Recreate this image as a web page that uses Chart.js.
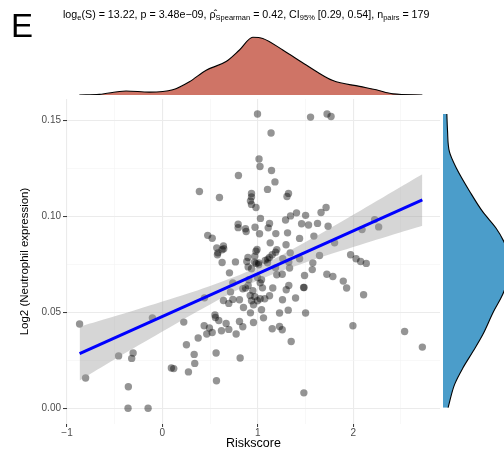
<!DOCTYPE html>
<html>
<head>
<meta charset="utf-8">
<script src="https://cdn.jsdelivr.net/npm/chart.js@4.4.1/dist/chart.umd.min.js"></script>
<style>
  html,body{margin:0;padding:0;background:#fff;}
  #wrap{position:relative;width:504px;height:457px;overflow:hidden;font-family:"Liberation Sans",Arial,sans-serif;}
  canvas{position:absolute;}
  #panel{position:absolute;left:11px;top:8px;font-size:33px;line-height:36px;color:#000;}
  #title{position:absolute;left:63px;top:7px;font-size:10.7px;line-height:14px;white-space:nowrap;color:#000;}
  #title sub{font-size:7.5px;vertical-align:-2px;line-height:0;}
</style>
</head>
<body>
<div id="wrap">
  <canvas id="main" width="504" height="457" style="left:0;top:0"></canvas>
  <canvas id="top" width="504" height="65" style="left:0;top:30px"></canvas>
  <canvas id="right" width="61" height="457" style="left:443px;top:0"></canvas>
  <div id="panel">E</div>
  <div id="title">log<sub>e</sub>(S) = 13.22, p = 3.48e−09, ρ̂<sub>Spearman</sub> = 0.42, CI<sub>95%</sub> [0.29, 0.54], n<sub>pairs</sub> = 179</div>
</div>
<script>
// ---- data ----
const riskscore = [0.997,1.553,1.726,1.768,1.139,1.013,1.023,1.144,0.797,1.180,1.102,0.388,0.598,0.934,0.934,1.322,1.306,0.923,0.934,0.981,
1.028,1.716,1.663,1.406,1.343,1.501,1.291,1.459,1.532,1.626,1.737,0.794,0.794,0.871,0.878,0.971,1.109,1.123,1.018,1.189,
1.312,1.438,1.588,1.805,1.296,1.186,1.151,0.992,0.981,0.897,1.647,1.973,2.030,2.078,2.137,2.225,2.267,2.093,0.475,0.522,
0.640,0.570,0.626,0.582,0.643,0.626,0.965,1.010,1.078,1.105,1.130,1.340,1.199,1.577,0.577,0.703,0.738,0.441,0.640,0.696,
0.738,0.551,0.556,0.591,0.438,0.493,0.522,0.465,0.375,0.619,0.668,0.696,0.773,0.808,0.843,0.955,0.563,0.815,0.333,0.339,
0.273,0.567,1.483,0.850,0.871,0.899,0.948,0.920,0.969,0.997,0.955,0.934,1.025,1.073,1.039,1.157,1.025,0.997,0.906,1.228,
1.319,1.501,1.396,1.298,1.325,1.485,1.490,1.256,1.333,1.199,1.228,1.151,1.256,1.350,0.934,1.010,1.102,0.899,0.885,0.969,
1.123,1.262,1.325,1.438,1.571,0.843,1.724,1.787,1.896,1.931,1.480,2.109,1.997,2.539,2.725,-0.868,-0.805,-0.105,-0.459,-0.307,
-0.322,-0.357,-0.360,-0.150,0.224,0.252,0.094,0.119,0.766,1.049,1.123,1.039,1.186,0.714,1.060,1.259,0.808,0.923,0.983];
const neutrophil = [0.1532,0.1516,0.1532,0.1519,0.1433,0.1298,0.1259,0.1238,0.1212,0.1179,0.1140,0.1129,0.1098,0.1119,0.1101,0.1119,0.1103,0.1080,0.1062,0.1046,
0.0989,0.1046,0.1020,0.1018,0.1002,0.1005,0.0981,0.0961,0.0955,0.0963,0.0948,0.0959,0.0941,0.0935,0.0921,0.0943,0.0940,0.0963,0.0909,0.0910,
0.0914,0.0885,0.0897,0.0862,0.0852,0.0813,0.0800,0.0828,0.0818,0.0786,0.0796,0.0800,0.0779,0.0765,0.0755,0.0983,0.0945,0.0931,0.0901,0.0886,
0.0846,0.0836,0.0826,0.0810,0.0831,0.0760,0.0762,0.0758,0.0770,0.0777,0.0862,0.0810,0.0827,0.0758,0.0800,0.0706,0.0654,0.0576,0.0562,0.0547,
0.0568,0.0487,0.0474,0.0458,0.0431,0.0419,0.0396,0.0388,0.0367,0.0405,0.0443,0.0412,0.0388,0.0453,0.0426,0.0448,0.0289,0.0263,0.0282,0.0235,
0.0191,0.0145,0.0082,0.0526,0.0627,0.0640,0.0613,0.0588,0.0582,0.0561,0.0540,0.0561,0.0571,0.0571,0.0514,0.0627,0.0654,0.0682,0.0670,0.0497,
0.0512,0.0497,0.0575,0.0618,0.0640,0.0630,0.0692,0.0699,0.0731,0.0696,0.0427,0.0415,0.0410,0.0349,0.0727,0.0748,0.0758,0.0737,0.0765,0.0793,
0.0786,0.0779,0.0762,0.0779,0.0723,0.0623,0.0699,0.0687,0.0663,0.0627,0.0630,0.0592,0.0431,0.0401,0.0320,0.0440,0.0159,0.0472,0.0274,0.0289,
0.0261,0.0114,0.0002,0.0002,0.0450,0.0332,0.0211,0.0208,0.0763,0.0628,0.0587,0.0670,0.0732,0.0607,0.0472,0.0566,0.0566,0.0498,0.0755];

// fitted line (read at its two ends)
const fitX = [-0.868, 2.725];
const fitY = [0.0286, 0.1085];
// confidence band (read)
const bandX  = [-0.868, -0.5, 0, 0.5, 1.0, 1.5, 2.0, 2.5, 2.725];
const bandLo = [0.0146, 0.0257, 0.0401, 0.0542, 0.0666, 0.0760, 0.0840, 0.0917, 0.0951];
const bandHi = [0.0426, 0.0480, 0.0557, 0.0638, 0.0736, 0.0866, 0.1008, 0.1154, 0.1219];

// marginal density of Riskscore (relative height)
const topDensX = [-0.871,-0.661,-0.381,-0.136,0.108,0.283,0.459,0.668,0.808,0.948,1.052,1.262,1.508,1.787,2.067,2.242,2.417,2.725];
const topDensY = [0,0.01,0.07,0.05,0.09,0.23,0.43,0.58,0.78,1.0,0.98,0.78,0.52,0.25,0.15,0.09,0.02,0];

// marginal density of expression (relative width)
const rightDensV = [0.1532,0.1449,0.1336,0.1250,0.1128,0.1024,0.0938,0.0869,0.0800,0.0748,0.0680,0.0592,0.0505,0.0384,0.0298,0.0211,0.0125,0.0005];
const rightDensW = [0.06,0.07,0.10,0.21,0.42,0.62,0.83,0.95,1.02,1.04,1.02,0.93,0.79,0.62,0.47,0.31,0.18,0.08];

// axis ticks
const xMajor = [-1, 0, 1, 2];
const xLabels = ['−1', '0', '1', '2'];
const xMinor = [-0.5, 0.5, 1.5, 2.5];
const yMajor = [0, 0.05, 0.10, 0.15];
const yLabels = ['0.00', '0.05', '0.10', '0.15'];
const yMinor = [0.025, 0.075, 0.125];

const X_MIN = -1.0, X_MAX = 2.91, Y_MIN = -0.008, Y_MAX = 0.161;

function idxOf(arr, v){ for (let i=0;i<arr.length;i++){ if (Math.abs(arr[i]-v)<1e-9) return i; } return -1; }

Chart.defaults.font.family = '"Liberation Sans", Arial, sans-serif';
Chart.defaults.animation = false;

const pts = riskscore.map((x,i)=>({x, y: neutrophil[i]}));

function gridOpts(major, tl){
  return {
    drawOnChartArea: true,
    color: c => idxOf(major, c.tick.value) >= 0 ? '#ebebeb' : '#f4f4f4',
    lineWidth: c => idxOf(major, c.tick.value) >= 0 ? 1.1 : 0.6,
    tickColor: c => idxOf(major, c.tick.value) >= 0 ? '#333333' : 'rgba(0,0,0,0)',
    tickWidth: 1,
    tickLength: tl,
    drawTicks: true
  };
}

new Chart(document.getElementById('main'), {
  type: 'line',
  data: {
    datasets: [
      { data: fitX.map((x,i)=>({x, y: fitY[i]})), borderColor: '#0000ff', borderWidth: 3, pointRadius: 0, fill: false },
      { data: bandX.map((x,i)=>({x, y: bandHi[i]})), borderWidth: 0, borderColor: 'rgba(0,0,0,0)', pointRadius: 0, tension: 0.4,
        fill: '+1', backgroundColor: 'rgba(153,153,153,0.4)' },
      { data: bandX.map((x,i)=>({x, y: bandLo[i]})), borderWidth: 0, borderColor: 'rgba(0,0,0,0)', pointRadius: 0, tension: 0.4, fill: false },
      { data: pts, showLine: false, pointRadius: 3.7, pointBorderWidth: 0, pointBackgroundColor: 'rgba(0,0,0,0.42)', pointHoverRadius: 3.7 }
    ]
  },
  options: {
    responsive: false,
    devicePixelRatio: 1,
    layout: { padding: { left: 0, right: 64, top: 99, bottom: 0 } },
    plugins: { legend: { display: false }, tooltip: { enabled: false } },
    scales: {
      x: {
        type: 'linear', min: X_MIN, max: X_MAX,
        afterBuildTicks: s => { s.ticks = [...xMajor, ...xMinor].sort((a,b)=>a-b).map(v=>({value:v})); },
        afterFit: s => { s.height = 33; },
        ticks: { autoSkip: false, maxRotation: 0, padding: 0, color: '#4d4d4d', font: { size: 10 },
                 callback: v => { const i = idxOf(xMajor, v); return i >= 0 ? xLabels[i] : ''; } },
        grid: gridOpts(xMajor, 3),
        border: { display: false },
        title: { display: true, text: 'Riskscore', color: '#000', font: { size: 12.5 }, padding: { top: 0, bottom: 6 } }
      },
      y: {
        type: 'linear', min: Y_MIN, max: Y_MAX,
        afterBuildTicks: s => { s.ticks = [...yMajor, ...yMinor].sort((a,b)=>a-b).map(v=>({value:v})); },
        afterFit: s => { s.width = 67; },
        ticks: { autoSkip: false, padding: 2, color: '#4d4d4d', font: { size: 10 },
                 callback: v => { const i = idxOf(yMajor, v); return i >= 0 ? yLabels[i] : ''; } },
        grid: gridOpts(yMajor, 4),
        border: { display: false },
        title: { display: true, text: 'Log2 (Neutrophil expression)', color: '#000', font: { size: 11.5 }, padding: { top: 18, bottom: 0 } }
      }
    }
  }
});

new Chart(document.getElementById('top'), {
  type: 'line',
  data: { datasets: [{ data: topDensX.map((x,i)=>({x, y: topDensY[i]})), borderColor: '#000', borderWidth: 1.1,
    backgroundColor: '#cf7466', fill: 'origin', pointRadius: 0, cubicInterpolationMode: 'monotone' }] },
  options: {
    responsive: false, devicePixelRatio: 1,
    layout: { padding: { left: 67, right: 64, top: 0, bottom: 0 } },
    plugins: { legend: { display: false }, tooltip: { enabled: false } },
    scales: {
      x: { type: 'linear', min: X_MIN, max: X_MAX, display: false },
      y: { type: 'linear', min: 0, max: 1.126, display: false }
    }
  }
});

new Chart(document.getElementById('right'), {
  type: 'line',
  data: { datasets: [{ data: rightDensV.map((v,i)=>({x: rightDensW[i], y: v})), borderColor: '#000', borderWidth: 1.1,
    backgroundColor: '#4b9dca', fill: 'origin', pointRadius: 0, cubicInterpolationMode: 'monotone' }] },
  options: {
    indexAxis: 'y',
    responsive: false, devicePixelRatio: 1,
    layout: { padding: { left: 0, right: 0, top: 99, bottom: 33 } },
    plugins: { legend: { display: false }, tooltip: { enabled: false } },
    scales: {
      x: { type: 'linear', min: 0, max: 0.953, display: false },
      y: { type: 'linear', min: Y_MIN, max: Y_MAX, display: false }
    }
  }
});
</script>
</body>
</html>
